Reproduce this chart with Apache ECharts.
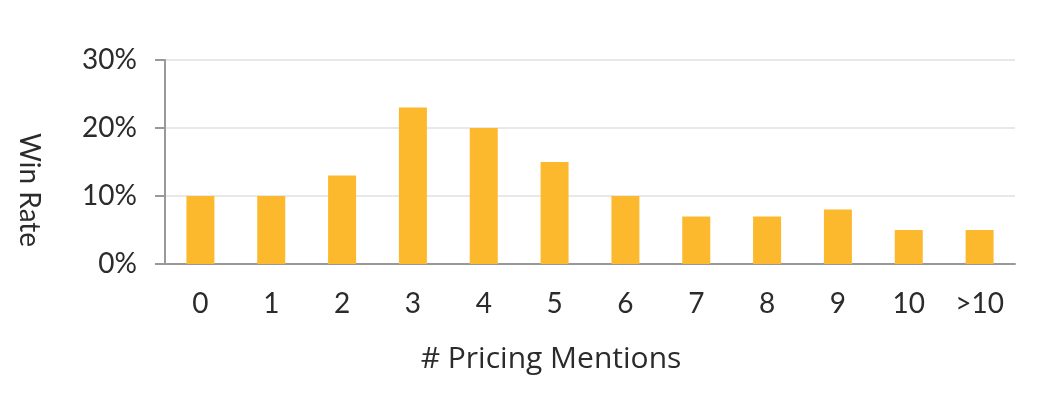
<!DOCTYPE html>
<html>
<head>
<meta charset="utf-8">
<script src="https://cdn.jsdelivr.net/npm/echarts@6/dist/echarts.min.js"></script>
<style>
  html, body { margin: 0; padding: 0; background: #fff; }
  #chart { width: 1060px; height: 406px; }
</style>
</head>
<body>
<div id="chart"></div>
<script>
// data
var categories = ['0', '1', '2', '3', '4', '5', '6', '7', '8', '9', '10', '>10'];
var winRate = [10, 10, 13, 23, 20, 15, 10, 7, 7, 8, 5, 5];
var yTicks = [0, 10, 20, 30];

var chart = echarts.init(document.getElementById('chart'));
chart.setOption({
    animation: false,
    grid: { left: 165, right: 45, top: 60, bottom: 142 },
    xAxis: {
        type: 'category',
        data: categories,
        name: '# Pricing Mentions',
        nameLocation: 'middle',
        nameGap: 80,
        nameTextStyle: {
            fontFamily: 'Open Sans', fontSize: 30, color: '#2b2b2b',
            padding: [0, 78, 0, 0]
        },
        axisLine: { lineStyle: { color: '#999', width: 2 } },
        axisTick: { length: 10, lineStyle: { color: '#999', width: 2 } },
        axisLabel: { margin: 26, fontFamily: 'Lato', fontSize: 28, color: '#2b2b2b' }
    },
    yAxis: {
        type: 'value',
        min: yTicks[0],
        max: yTicks[yTicks.length - 1],
        interval: 10,
        name: 'Win Rate',
        nameLocation: 'middle',
        nameRotate: -90,
        nameGap: 122,
        nameTextStyle: {
            fontFamily: 'Lato', fontSize: 28, color: '#2b2b2b',
            padding: [0, 0, 0, 56]
        },
        axisLine: { show: true, lineStyle: { color: '#999', width: 2 } },
        axisTick: { show: true, length: 10, lineStyle: { color: '#999', width: 2 } },
        axisLabel: {
            margin: 28, fontFamily: 'Lato', fontSize: 28, color: '#2b2b2b',
            formatter: '{value}%'
        },
        splitLine: { lineStyle: { color: '#e8e8e8', width: 2 } }
    },
    series: [{
        type: 'bar',
        data: winRate,
        barWidth: 28,
        itemStyle: { color: '#FDB92E' }
    }]
});
</script>
</body>
</html>
